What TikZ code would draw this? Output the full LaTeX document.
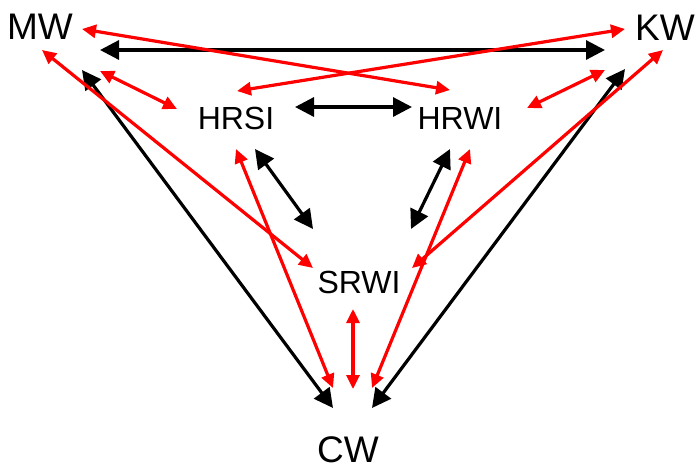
\documentclass[tikz,border=0pt]{standalone}
\usepackage{fontspec}
\setmainfont{Liberation Sans}
\usepackage{xcolor}
\usetikzlibrary{arrows.meta, calc}
\definecolor{linkred}{RGB}{255, 0, 0}

\begin{document}
\begin{tikzpicture}[x=1pt, y=-1pt,
    bigword/.style={inner sep=0pt, font=\fontsize{37}{40}\selectfont},
    smallword/.style={inner sep=0pt, font=\fontsize{32}{35}\selectfont},
    blackarr/.style={line width=3.2pt, black, {Triangle[length=19pt, width=19pt]}-{Triangle[length=19pt, width=19pt]}},
    redarr/.style={line width=3.2pt, linkred, {Triangle[length=14pt, width=13pt]}-{Triangle[length=14pt, width=13pt]}}
]
\useasboundingbox (0,0) rectangle (697,467);

% Corners
\node[bigword] (MW) at (40,27) {MW};
\node[bigword] (KW) at (665,28) {KW};
\node[bigword] (CW) at (348,450) {CW};

% Inner terms
\node[smallword] (HRSI) at (236,118) {HRSI};
\node[smallword] (HRWI) at (460,118) {HRWI};
\node[smallword] (SRWI) at (359,282) {SRWI};

% Black arrows
\draw[blackarr] ($(MW)+(60,23)$) -- ($(KW)+(-60,22)$);
\draw[blackarr] ($(MW)+(42,43)$) -- ($(CW)+(-15,-42)$);
\draw[blackarr] ($(KW)+(-40,41)$) -- ($(CW)+(24,-42)$);
\draw[blackarr] ($(HRSI)+(59,-11)$) -- ($(HRWI)+(-48,-11)$);
\draw[blackarr] ($(HRSI)+(19,31)$) -- ($(SRWI)+(-46,-53)$);
\draw[blackarr] ($(HRWI)+(-10,31)$) -- ($(SRWI)+(52,-53)$);

% Red arrows
\draw[redarr] ($(MW)+(42,2)$) -- ($(HRWI)+(-10,-28)$);
\draw[redarr] ($(KW)+(-40,1)$) -- ($(HRSI)+(1,-27)$);
\draw[redarr] ($(MW)+(60,44)$) -- ($(HRSI)+(-59,-9)$);
\draw[redarr] ($(KW)+(-60,42)$) -- ($(HRWI)+(67,-10)$);
\draw[redarr] ($(MW)+(2,23)$) -- ($(SRWI)+(-46,-14)$);
\draw[redarr] ($(KW)+(-2,22)$) -- ($(SRWI)+(53,-14)$);
\draw[redarr] ($(HRSI)+(0,31)$) -- ($(CW)+(-15,-62)$);
\draw[redarr] ($(HRWI)+(10,31)$) -- ($(CW)+(24,-62)$);
\draw[redarr] ($(SRWI)+(-6,27)$) -- ($(CW)+(5,-61)$);

\end{tikzpicture}
\end{document}
